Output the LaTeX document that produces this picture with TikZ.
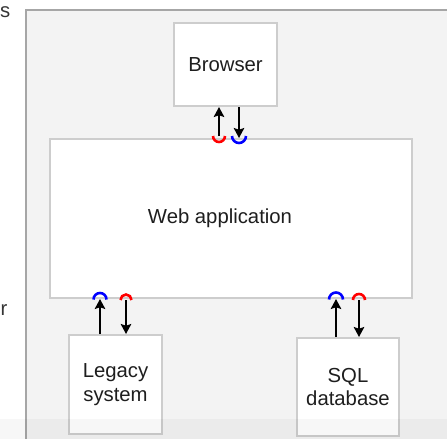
\documentclass[tikz,border=0pt]{standalone}
\usepackage{fontspec}
\setmainfont{Liberation Sans}
\usetikzlibrary{arrows.meta,calc}
\definecolor{panel}{HTML}{F3F3F3}
\definecolor{frameline}{HTML}{A6A6A6}
\definecolor{boxline}{HTML}{CDCDCD}
\definecolor{ink}{HTML}{1E1E1E}
\begin{document}
\begin{tikzpicture}[x=1pt,y=-1pt,
  comp/.style={draw=boxline, line width=2pt, fill=white, inner sep=0pt,
    text=ink, font=\fontsize{20.3}{23.5}\selectfont, align=center},
  flow/.style={-{Stealth[length=10pt,width=10.5pt,inset=1.8pt]}, line width=2.4pt, black},
  reqarc/.style={red, line width=2.6pt},
  provarc/.style={blue, line width=2.6pt},
  cut/.style={text=ink!90, font=\fontsize{20.3}{23.5}\selectfont, inner sep=0pt},
]
\useasboundingbox (0,0) rectangle (447,439);

% model panel
\fill[panel] (26,10) rectangle (447,439);
\draw[frameline, line width=1.6pt] (26,439) -- (26,10) -- (447,10);

% clipped labels from the neighbouring pane
\node[cut, anchor=base east] (cutS) at (10.5,17) {s};
\node[cut, anchor=base east] (cutR) at (7.5,315) {r};

% components
\node[comp, minimum width=103pt, minimum height=83pt] (browser) at (225.5,64.5) {Browser};
\node[comp, minimum width=362pt, minimum height=159pt,
      label={[text=ink, font=\fontsize{20.3}{23.5}\selectfont, xshift=-11pt]center:Web application}]
      (webapp) at (231,218.5) {};
\node[comp, minimum width=93pt, minimum height=99pt] (legacy) at (115.5,384.5) {Legacy\\system};
\node[comp, minimum width=102pt, minimum height=98pt] (sql) at (348,387) {SQL\\database};

% Browser <-> Web application
\coordinate (bR) at (219,136);
\coordinate (bB) at (239,136);
\draw[flow] (bR) -- (bR |- browser.south);
\draw[flow] (bB |- browser.south) -- (bB |- webapp.north);
\draw[reqarc] ($(bR)+(6,0)$) arc[start angle=0, end angle=180, radius=6];
\draw[provarc] ($(bB)+(7,0)$) arc[start angle=0, end angle=180, radius=7];

% Legacy system <-> Web application
\coordinate (lB) at (100,299.5);
\coordinate (lR) at (126,300);
\draw[flow] (lB |- legacy.north) -- (lB |- webapp.south);
\draw[flow] (lR) -- (lR |- legacy.north);
\draw[provarc] ($(lB)+(6.5,0)$) arc[start angle=0, end angle=-180, radius=6.5];
\draw[reqarc] ($(lR)+(5.5,0)$) arc[start angle=0, end angle=-180, radius=5.5];

% SQL database <-> Web application
\coordinate (sB) at (336,299.5);
\coordinate (sR) at (359,300);
\draw[flow] (sB |- sql.north) -- (sB |- webapp.south);
\draw[flow] (sR) -- (sR |- sql.north);
\draw[provarc] ($(sB)+(7,0)$) arc[start angle=0, end angle=-180, radius=7];
\draw[reqarc] ($(sR)+(6,0)$) arc[start angle=0, end angle=-180, radius=6];

% faint shaded strip along the lower edge
\fill[black, opacity=0.03] (0,419) rectangle (447,439);
\end{tikzpicture}
\end{document}
